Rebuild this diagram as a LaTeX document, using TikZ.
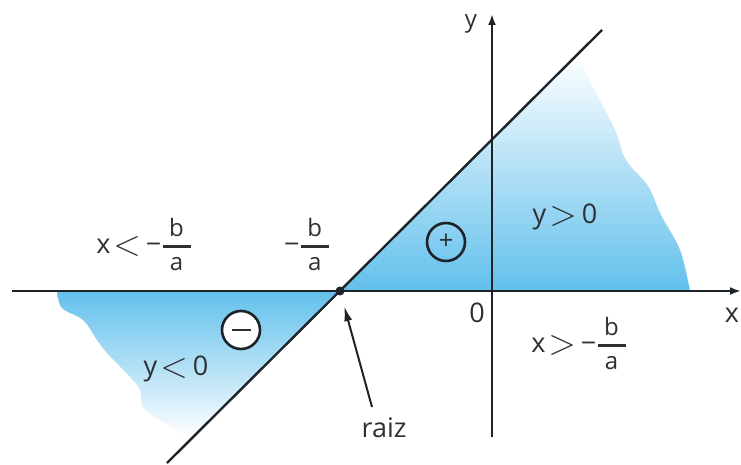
\documentclass[tikz,border=0pt]{standalone}
\usepackage{amsmath}
\usepackage{fontspec}
\setmainfont{Open Sans}
\usetikzlibrary{positioning, arrows.meta}
\definecolor{inkdark}{HTML}{1E2328}
\definecolor{labelgray}{HTML}{2E3033}
\definecolor{skyblue}{HTML}{62C0EC}
\newcommand{\fracba}{$\genfrac{}{}{2.6pt}{0}{\makebox[28pt]{\fontsize{24}{24}\selectfont b}}{\makebox[28pt]{\fontsize{24}{24}\selectfont a}}$}
\newcommand{\lessthan}{\hspace{3pt}\raisebox{-2.5pt}{\scalebox{1.45}{$<$}}\hspace{5pt}}
\newcommand{\morethan}{\hspace{3pt}\raisebox{-2.5pt}{\scalebox{1.45}{$>$}}\hspace{5pt}}

\begin{document}
\begin{tikzpicture}[
    x=1pt, y=-1pt,
    font=\fontsize{27}{32}\selectfont,
    % Styles
    axis/.style={line width=2.4pt, draw=inkdark, -{Latex[length=11pt, width=8pt]}},
    graphline/.style={line width=2.4pt, draw=inkdark},
    pointer/.style={line width=2pt, draw=inkdark, -{Latex[length=15pt, width=8pt]}, shorten >=11pt},
    rootdot/.style={circle, fill=inkdark, inner sep=0pt, minimum size=9pt},
    sign/.style={circle, draw=inkdark, line width=2.6pt, minimum size=38pt, inner sep=0pt, font=\fontsize{26}{26}\selectfont, text=labelgray},
    lbl/.style={inner sep=0pt, anchor=base, text=labelgray},
    uppershade/.style={top color=white, middle color=skyblue!50, bottom color=skyblue},
    lowershade/.style={top color=skyblue, middle color=skyblue!55, bottom color=white}
]
\useasboundingbox (0,0) rectangle (741,465);

% ==================== SHADED REGIONS ====================
\shade[uppershade] (340,291) -- plot[smooth, tension=0.6] coordinates {(578,53) (592,85) (615,130) (626,160) (648,186) (661,215) (680,250) (690,291)} -- cycle;
\shade[lowershade] plot[smooth, tension=0.6] coordinates {(57,291) (62,308) (83,320) (97,340) (107,353) (130,377) (140,390) (143,407) (160,420) (177,430) (193,438)} -- (340,291) -- cycle;

% ==================== AXES ====================
\coordinate (xstart) at (12,291);
\coordinate (xend) at (741,291);
\coordinate (ystart) at (492,437);
\coordinate (yend) at (492,14);
\draw[axis] (xstart) -- (xend);
\draw[axis] (ystart) -- (yend);

% ==================== LINE ====================
\coordinate (lowend) at (167,463);
\coordinate (highend) at (602,30);
\draw[graphline] (lowend) -- (highend);
\node[rootdot] (root) at (340,291) {};

% ==================== SIGNS ====================
\node[sign] (plus) at (446,242) {+};
\node[sign, fill=white] (minus) at (241,330) {\rule{19pt}{2.8pt}};

% ==================== LABELS ====================
\node[lbl] (xlabel) at (732,322) {x};
\node[lbl, font=\fontsize{24}{28}\selectfont] (ylabel) at (471,28) {y};
\node[lbl] (zero) at (477,322) {0};
\node[lbl] (xless) at (144,253) {x\lessthan−\fracba};
\node[lbl] (rootval) at (307,253) {−\fracba};
\node[lbl] (ypos) at (565,223) {y\morethan0};
\node[lbl] (yneg) at (176,375) {y\lessthan0};
\node[lbl] (xmore) at (579,352) {x\morethan−\fracba};
\node[lbl] (raiz) at (384,437) {raiz};

\draw[pointer] ([xshift=-12pt, yshift=10pt]raiz.north) -- (root);

\end{tikzpicture}
\end{document}
